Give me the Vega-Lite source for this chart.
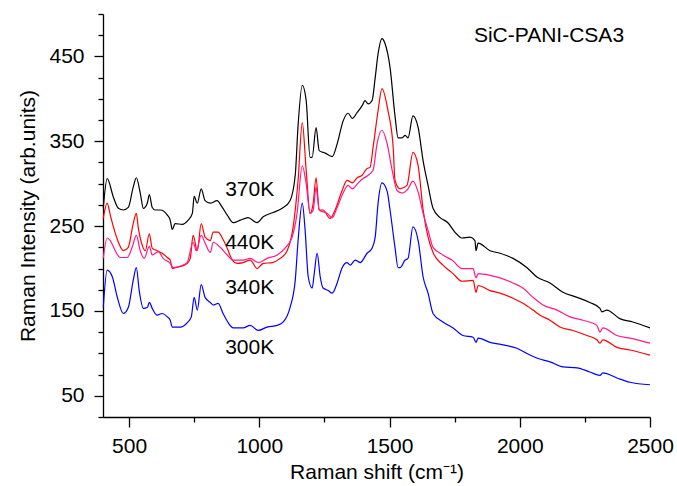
{
"$schema": "https://vega.github.io/schema/vega-lite/v6.json",
"width": 547, "height": 403,
"autosize": {"type": "none"},
"padding": {"left": 103, "top": 14, "right": 27, "bottom": 69},
"config": {"view": {"stroke": null}, "axis": {"grid": false, "domainColor": "#000", "tickColor": "#000", "labelColor": "#000", "titleColor": "#000", "labelFont": "Liberation Sans", "titleFont": "Liberation Sans", "domainWidth": 1.3, "tickWidth": 1.3}},
"datasets": {
"spectra": [
{"T":"370K","x":401,"y":271},{"T":"370K","x":416,"y":306},{"T":"370K","x":440,"y":284},{"T":"370K","x":459,"y":271},{"T":"370K","x":478,"y":269},{"T":"370K","x":497,"y":272},{"T":"370K","x":516,"y":296},{"T":"370K","x":528,"y":307},{"T":"370K","x":543,"y":289},{"T":"370K","x":555,"y":271},{"T":"370K","x":570,"y":277},{"T":"370K","x":578,"y":287},{"T":"370K","x":589,"y":272},{"T":"370K","x":601,"y":269},{"T":"370K","x":620,"y":269},{"T":"370K","x":647,"y":263},{"T":"370K","x":658,"y":257},{"T":"370K","x":666,"y":246},{"T":"370K","x":677,"y":253},{"T":"370K","x":704,"y":252},{"T":"370K","x":727,"y":257},{"T":"370K","x":743,"y":265},{"T":"370K","x":750,"y":285},{"T":"370K","x":762,"y":277},{"T":"370K","x":777,"y":294},{"T":"370K","x":792,"y":280},{"T":"370K","x":812,"y":277},{"T":"370K","x":838,"y":280},{"T":"370K","x":858,"y":272},{"T":"370K","x":877,"y":263},{"T":"370K","x":900,"y":254},{"T":"370K","x":927,"y":257},{"T":"370K","x":957,"y":260},{"T":"370K","x":992,"y":254},{"T":"370K","x":1015,"y":261},{"T":"370K","x":1053,"y":266},{"T":"370K","x":1088,"y":271},{"T":"370K","x":1118,"y":280},{"T":"370K","x":1138,"y":310},{"T":"370K","x":1149,"y":369},{"T":"370K","x":1165,"y":416},{"T":"370K","x":1180,"y":398},{"T":"370K","x":1195,"y":331},{"T":"370K","x":1203,"y":331},{"T":"370K","x":1218,"y":366},{"T":"370K","x":1230,"y":339},{"T":"370K","x":1253,"y":336},{"T":"370K","x":1280,"y":332},{"T":"370K","x":1299,"y":347},{"T":"370K","x":1322,"y":374},{"T":"370K","x":1341,"y":383},{"T":"370K","x":1357,"y":377},{"T":"370K","x":1376,"y":384},{"T":"370K","x":1395,"y":392},{"T":"370K","x":1406,"y":398},{"T":"370K","x":1418,"y":394},{"T":"370K","x":1433,"y":398},{"T":"370K","x":1445,"y":425},{"T":"370K","x":1456,"y":453},{"T":"370K","x":1471,"y":471},{"T":"370K","x":1483,"y":465},{"T":"370K","x":1502,"y":437},{"T":"370K","x":1521,"y":380},{"T":"370K","x":1533,"y":354},{"T":"370K","x":1548,"y":354},{"T":"370K","x":1560,"y":357},{"T":"370K","x":1571,"y":354},{"T":"370K","x":1590,"y":380},{"T":"370K","x":1610,"y":366},{"T":"370K","x":1629,"y":327},{"T":"370K","x":1648,"y":298},{"T":"370K","x":1667,"y":271},{"T":"370K","x":1694,"y":260},{"T":"370K","x":1724,"y":254},{"T":"370K","x":1751,"y":243},{"T":"370K","x":1778,"y":236},{"T":"370K","x":1809,"y":237},{"T":"370K","x":1828,"y":233},{"T":"370K","x":1832,"y":221},{"T":"370K","x":1840,"y":230},{"T":"370K","x":1886,"y":221},{"T":"370K","x":1924,"y":218},{"T":"370K","x":1974,"y":212},{"T":"370K","x":2028,"y":201},{"T":"370K","x":2066,"y":190},{"T":"370K","x":2116,"y":183},{"T":"370K","x":2166,"y":172},{"T":"370K","x":2220,"y":166},{"T":"370K","x":2269,"y":160},{"T":"370K","x":2308,"y":153},{"T":"370K","x":2315,"y":149},{"T":"370K","x":2334,"y":151},{"T":"370K","x":2384,"y":141},{"T":"370K","x":2434,"y":137},{"T":"370K","x":2500,"y":130},
{"T":"440K","x":401,"y":259},{"T":"440K","x":416,"y":277},{"T":"440K","x":428,"y":263},{"T":"440K","x":440,"y":249},{"T":"440K","x":459,"y":231},{"T":"440K","x":478,"y":221},{"T":"440K","x":497,"y":225},{"T":"440K","x":516,"y":253},{"T":"440K","x":528,"y":265},{"T":"440K","x":535,"y":249},{"T":"440K","x":551,"y":227},{"T":"440K","x":562,"y":221},{"T":"440K","x":578,"y":241},{"T":"440K","x":589,"y":224},{"T":"440K","x":608,"y":221},{"T":"440K","x":627,"y":218},{"T":"440K","x":647,"y":213},{"T":"440K","x":658,"y":210},{"T":"440K","x":666,"y":200},{"T":"440K","x":677,"y":201},{"T":"440K","x":704,"y":203},{"T":"440K","x":723,"y":206},{"T":"440K","x":735,"y":212},{"T":"440K","x":746,"y":239},{"T":"440K","x":762,"y":221},{"T":"440K","x":777,"y":253},{"T":"440K","x":792,"y":237},{"T":"440K","x":812,"y":233},{"T":"440K","x":823,"y":243},{"T":"440K","x":842,"y":243},{"T":"440K","x":858,"y":236},{"T":"440K","x":877,"y":224},{"T":"440K","x":896,"y":210},{"T":"440K","x":915,"y":206},{"T":"440K","x":938,"y":207},{"T":"440K","x":965,"y":210},{"T":"440K","x":992,"y":200},{"T":"440K","x":1015,"y":206},{"T":"440K","x":1050,"y":207},{"T":"440K","x":1080,"y":212},{"T":"440K","x":1107,"y":221},{"T":"440K","x":1130,"y":249},{"T":"440K","x":1149,"y":304},{"T":"440K","x":1165,"y":372},{"T":"440K","x":1180,"y":316},{"T":"440K","x":1195,"y":265},{"T":"440K","x":1207,"y":277},{"T":"440K","x":1218,"y":307},{"T":"440K","x":1230,"y":269},{"T":"440K","x":1245,"y":269},{"T":"440K","x":1272,"y":259},{"T":"440K","x":1291,"y":269},{"T":"440K","x":1318,"y":292},{"T":"440K","x":1337,"y":304},{"T":"440K","x":1357,"y":301},{"T":"440K","x":1376,"y":307},{"T":"440K","x":1395,"y":310},{"T":"440K","x":1414,"y":318},{"T":"440K","x":1425,"y":319},{"T":"440K","x":1437,"y":343},{"T":"440K","x":1456,"y":386},{"T":"440K","x":1471,"y":412},{"T":"440K","x":1494,"y":386},{"T":"440K","x":1514,"y":343},{"T":"440K","x":1521,"y":304},{"T":"440K","x":1540,"y":294},{"T":"440K","x":1567,"y":298},{"T":"440K","x":1590,"y":337},{"T":"440K","x":1610,"y":321},{"T":"440K","x":1629,"y":269},{"T":"440K","x":1648,"y":237},{"T":"440K","x":1667,"y":219},{"T":"440K","x":1705,"y":204},{"T":"440K","x":1744,"y":194},{"T":"440K","x":1778,"y":185},{"T":"440K","x":1821,"y":186},{"T":"440K","x":1832,"y":172},{"T":"440K","x":1840,"y":180},{"T":"440K","x":1886,"y":174},{"T":"440K","x":1924,"y":171},{"T":"440K","x":1974,"y":165},{"T":"440K","x":2012,"y":159},{"T":"440K","x":2051,"y":151},{"T":"440K","x":2078,"y":145},{"T":"440K","x":2116,"y":139},{"T":"440K","x":2154,"y":131},{"T":"440K","x":2204,"y":127},{"T":"440K","x":2258,"y":121},{"T":"440K","x":2296,"y":116},{"T":"440K","x":2308,"y":112},{"T":"440K","x":2319,"y":116},{"T":"440K","x":2373,"y":107},{"T":"440K","x":2423,"y":104},{"T":"440K","x":2500,"y":98},
{"T":"340K","x":401,"y":212},{"T":"340K","x":416,"y":236},{"T":"340K","x":428,"y":233},{"T":"340K","x":447,"y":221},{"T":"340K","x":466,"y":213},{"T":"340K","x":493,"y":213},{"T":"340K","x":512,"y":225},{"T":"340K","x":528,"y":239},{"T":"340K","x":543,"y":221},{"T":"340K","x":558,"y":212},{"T":"340K","x":578,"y":226},{"T":"340K","x":589,"y":216},{"T":"340K","x":612,"y":220},{"T":"340K","x":631,"y":212},{"T":"340K","x":658,"y":206},{"T":"340K","x":670,"y":201},{"T":"340K","x":697,"y":203},{"T":"340K","x":723,"y":207},{"T":"340K","x":746,"y":231},{"T":"340K","x":758,"y":221},{"T":"340K","x":777,"y":239},{"T":"340K","x":792,"y":230},{"T":"340K","x":812,"y":219},{"T":"340K","x":823,"y":231},{"T":"340K","x":850,"y":225},{"T":"340K","x":877,"y":216},{"T":"340K","x":900,"y":210},{"T":"340K","x":938,"y":210},{"T":"340K","x":965,"y":212},{"T":"340K","x":996,"y":207},{"T":"340K","x":1030,"y":212},{"T":"340K","x":1069,"y":216},{"T":"340K","x":1099,"y":224},{"T":"340K","x":1126,"y":237},{"T":"340K","x":1145,"y":265},{"T":"340K","x":1165,"y":321},{"T":"340K","x":1180,"y":300},{"T":"340K","x":1195,"y":265},{"T":"340K","x":1207,"y":269},{"T":"340K","x":1218,"y":296},{"T":"340K","x":1230,"y":269},{"T":"340K","x":1261,"y":265},{"T":"340K","x":1280,"y":260},{"T":"340K","x":1299,"y":272},{"T":"340K","x":1322,"y":289},{"T":"340K","x":1341,"y":298},{"T":"340K","x":1357,"y":294},{"T":"340K","x":1380,"y":301},{"T":"340K","x":1399,"y":306},{"T":"340K","x":1418,"y":310},{"T":"340K","x":1437,"y":316},{"T":"340K","x":1452,"y":347},{"T":"340K","x":1471,"y":363},{"T":"340K","x":1491,"y":347},{"T":"340K","x":1510,"y":316},{"T":"340K","x":1529,"y":292},{"T":"340K","x":1548,"y":289},{"T":"340K","x":1571,"y":294},{"T":"340K","x":1590,"y":303},{"T":"340K","x":1610,"y":290},{"T":"340K","x":1629,"y":265},{"T":"340K","x":1648,"y":245},{"T":"340K","x":1667,"y":225},{"T":"340K","x":1705,"y":216},{"T":"340K","x":1744,"y":209},{"T":"340K","x":1778,"y":200},{"T":"340K","x":1821,"y":200},{"T":"340K","x":1832,"y":189},{"T":"340K","x":1840,"y":194},{"T":"340K","x":1886,"y":192},{"T":"340K","x":1924,"y":189},{"T":"340K","x":1974,"y":183},{"T":"340K","x":2012,"y":177},{"T":"340K","x":2051,"y":166},{"T":"340K","x":2089,"y":157},{"T":"340K","x":2143,"y":151},{"T":"340K","x":2193,"y":143},{"T":"340K","x":2243,"y":139},{"T":"340K","x":2296,"y":133},{"T":"340K","x":2308,"y":125},{"T":"340K","x":2319,"y":130},{"T":"340K","x":2373,"y":121},{"T":"340K","x":2423,"y":118},{"T":"340K","x":2500,"y":112},
{"T":"300K","x":401,"y":154},{"T":"300K","x":416,"y":198},{"T":"300K","x":436,"y":190},{"T":"300K","x":455,"y":166},{"T":"300K","x":478,"y":147},{"T":"300K","x":497,"y":154},{"T":"300K","x":516,"y":186},{"T":"300K","x":528,"y":201},{"T":"300K","x":539,"y":174},{"T":"300K","x":555,"y":153},{"T":"300K","x":570,"y":154},{"T":"300K","x":578,"y":160},{"T":"300K","x":589,"y":153},{"T":"300K","x":608,"y":145},{"T":"300K","x":627,"y":147},{"T":"300K","x":647,"y":143},{"T":"300K","x":658,"y":139},{"T":"300K","x":666,"y":131},{"T":"300K","x":697,"y":131},{"T":"300K","x":723,"y":136},{"T":"300K","x":739,"y":143},{"T":"300K","x":750,"y":166},{"T":"300K","x":762,"y":151},{"T":"300K","x":777,"y":181},{"T":"300K","x":792,"y":166},{"T":"300K","x":812,"y":160},{"T":"300K","x":823,"y":157},{"T":"300K","x":842,"y":159},{"T":"300K","x":861,"y":147},{"T":"300K","x":881,"y":136},{"T":"300K","x":900,"y":130},{"T":"300K","x":938,"y":130},{"T":"300K","x":965,"y":133},{"T":"300K","x":996,"y":127},{"T":"300K","x":1030,"y":131},{"T":"300K","x":1069,"y":133},{"T":"300K","x":1092,"y":137},{"T":"300K","x":1118,"y":154},{"T":"300K","x":1138,"y":186},{"T":"300K","x":1149,"y":233},{"T":"300K","x":1165,"y":277},{"T":"300K","x":1176,"y":245},{"T":"300K","x":1188,"y":190},{"T":"300K","x":1203,"y":177},{"T":"300K","x":1211,"y":194},{"T":"300K","x":1222,"y":218},{"T":"300K","x":1234,"y":190},{"T":"300K","x":1245,"y":177},{"T":"300K","x":1265,"y":174},{"T":"300K","x":1280,"y":171},{"T":"300K","x":1299,"y":183},{"T":"300K","x":1318,"y":201},{"T":"300K","x":1337,"y":207},{"T":"300K","x":1349,"y":204},{"T":"300K","x":1368,"y":210},{"T":"300K","x":1387,"y":207},{"T":"300K","x":1414,"y":218},{"T":"300K","x":1433,"y":224},{"T":"300K","x":1445,"y":237},{"T":"300K","x":1456,"y":277},{"T":"300K","x":1471,"y":301},{"T":"300K","x":1491,"y":291},{"T":"300K","x":1502,"y":269},{"T":"300K","x":1521,"y":225},{"T":"300K","x":1533,"y":201},{"T":"300K","x":1540,"y":201},{"T":"300K","x":1560,"y":210},{"T":"300K","x":1571,"y":212},{"T":"300K","x":1590,"y":249},{"T":"300K","x":1610,"y":233},{"T":"300K","x":1629,"y":190},{"T":"300K","x":1648,"y":171},{"T":"300K","x":1667,"y":147},{"T":"300K","x":1705,"y":137},{"T":"300K","x":1744,"y":130},{"T":"300K","x":1782,"y":121},{"T":"300K","x":1821,"y":119},{"T":"300K","x":1832,"y":113},{"T":"300K","x":1840,"y":118},{"T":"300K","x":1886,"y":113},{"T":"300K","x":1936,"y":110},{"T":"300K","x":1989,"y":106},{"T":"300K","x":2039,"y":98},{"T":"300K","x":2070,"y":94},{"T":"300K","x":2116,"y":90},{"T":"300K","x":2166,"y":84},{"T":"300K","x":2220,"y":83},{"T":"300K","x":2269,"y":78},{"T":"300K","x":2308,"y":74},{"T":"300K","x":2319,"y":77},{"T":"300K","x":2373,"y":71},{"T":"300K","x":2423,"y":66},{"T":"300K","x":2500,"y":63}
],
"labels": [
{"label":"370K","x":869,"y":293},{"label":"440K","x":869,"y":230},{"label":"340K","x":869,"y":177},{"label":"300K","x":869,"y":106},{"label":"SiC-PANI-CSA3","x":1824,"y":474}
]
},
"data": {"name": "spectra"},
"layer": [
{
"mark": {"type": "line", "opacity": 0},
"encoding": {
"x": {"field": "x", "type": "quantitative", "scale": {"domain": [400, 2500], "nice": false, "zero": false}, "axis": {"orient": "bottom", "values": [750, 1250, 1750, 2250], "tickSize": 5, "labels": false, "domain": false, "title": null}},
"y": {"field": "y", "type": "quantitative", "scale": {"domain": [25, 500], "nice": false, "zero": false}, "axis": {"orient": "left", "values": [25, 75, 100, 125, 175, 200, 225, 275, 300, 325, 375, 400, 425, 475, 500], "tickSize": 5, "labels": false, "domain": false, "title": null}},
"detail": {"field": "T"}
}
},
{
"mark": {"type": "line", "strokeWidth": 1.2, "interpolate": "monotone"},
"encoding": {
"x": {"field": "x", "type": "quantitative", "scale": {"domain": [400, 2500], "nice": false, "zero": false}, "axis": {"orient": "bottom", "values": [500, 1000, 1500, 2000, 2500], "format": "d", "tickSize": 10, "labelFontSize": 21, "labelPadding": 8, "labelFlush": false, "title": "Raman shift (cm⁻¹)", "titleFontSize": 21, "titleFontWeight": "normal", "titlePadding": 5}},
"y": {"field": "y", "type": "quantitative", "scale": {"domain": [25, 500], "nice": false, "zero": false}, "axis": {"orient": "left", "values": [50, 150, 250, 350, 450], "format": "d", "tickSize": 9, "labelFontSize": 21, "labelPadding": 10, "title": "Raman Intensity (arb.units)", "titleFontSize": 21, "titleFontWeight": "normal", "titlePadding": 10}},
"color": {"field": "T", "type": "nominal", "scale": {"domain": ["370K", "440K", "340K", "300K"], "range": ["#000000", "#ff0000", "#ff1a8c", "#0000ff"]}, "legend": null}
}
},
{
"data": {"name": "labels"},
"mark": {"type": "text", "align": "left", "baseline": "middle", "fontSize": 21, "font": "Liberation Sans", "color": "#000"},
"encoding": {
"x": {"field": "x", "type": "quantitative", "scale": {"domain": [400, 2500], "nice": false, "zero": false}, "axis": null},
"y": {"field": "y", "type": "quantitative", "scale": {"domain": [25, 500], "nice": false, "zero": false}, "axis": null},
"text": {"field": "label"}
}
}
],
"resolve": {"axis": {"x": "independent", "y": "independent"}}
}
